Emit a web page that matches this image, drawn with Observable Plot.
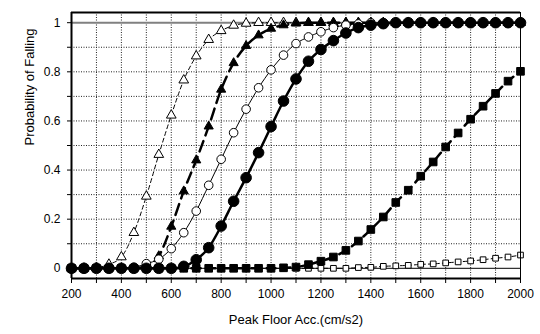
<!DOCTYPE html>
<html><head><meta charset="utf-8">
<script src="https://cdn.jsdelivr.net/npm/d3@7"></script>
<script src="https://cdn.jsdelivr.net/npm/@observablehq/plot@0.6"></script>
<style>body{margin:0;background:#fff}</style>
</head><body><div id="chart"></div>
<script>
// Peak floor acceleration (cm/s2)
const acc = [200,250,300,350,400,450,500,550,600,650,700,750,800,850,900,950,1000,1050,1100,1150,1200,1250,1300,1350,1400,1450,1500,1550,1600,1650,1700,1750,1800,1850,1900,1950,2000];
// Probability of falling, per series
const openTriangle = [0,0,0.003,0.016,0.046,0.145,0.293,0.463,0.623,0.766,0.864,0.931,0.967,0.989,0.997,1,1,1,1,1,1,1,1,1,1,1,1,1,1,1,1,1,1,1,1,1,1];
const filledTriangle = [0,0,0,0,0,0,0.01,0.05,0.17,0.314,0.44,0.578,0.728,0.836,0.906,0.949,0.976,0.99,0.997,1,1,1,1,1,1,1,1,1,1,1,1,1,1,1,1,1,1];
const openCircle = [0,0,0,0,0,0.004,0.019,0.037,0.08,0.145,0.233,0.338,0.444,0.552,0.648,0.735,0.808,0.868,0.915,0.942,0.963,0.98,0.99,0.995,1,1,1,1,1,1,1,1,1,1,1,1,1];
const filledCircle = [0,0,0,0,0,0,0,0,0,0.008,0.035,0.084,0.172,0.273,0.369,0.471,0.577,0.681,0.771,0.843,0.891,0.927,0.958,0.98,0.99,0.996,1,1,1,1,1,1,1,1,1,1,1];
const filledSquare = [0,0,0,0,0,0,0,0,0,0,0,0,0,0,0,0,0,0.002,0.005,0.015,0.029,0.046,0.073,0.111,0.158,0.209,0.268,0.318,0.375,0.433,0.494,0.551,0.607,0.66,0.712,0.762,0.802];
const openSquare = [0,0,0,0,0,0,0,0,0,0,0,0,0,0,0,0,0,0,0,0,0,0,0,0.003,0.004,0.008,0.01,0.012,0.016,0.018,0.022,0.026,0.03,0.035,0.041,0.046,0.054];

const xTickLabels = [200,400,600,800,1000,1200,1400,1600,1800,2000];
const xMinorTicks = [200,300,400,500,600,700,800,900,1000,1100,1200,1300,1400,1500,1600,1700,1800,1900,2000];
const yTickLabels = [0,0.2,0.4,0.6,0.8,1];
const yMinorTicks = [0,0.1,0.2,0.3,0.4,0.5,0.6,0.7,0.8,0.9,1];
const xGrid = [300,400,500,600,700,800,900,1000,1100,1200,1300,1400,1500,1600,1700,1800,1900];
const yGrid = [0.1,0.2,0.3,0.4,0.5,0.6,0.7,0.8,0.9];

// drawing order: first drawn is underneath
const series = [
  {values: openSquare,    symbol: "square",   fill: "white", r: 3.2, sw: 1,   dash: "4,3",  dotSw: 1},
  {values: filledSquare,  symbol: "square",   fill: "black", r: 4.3, sw: 2.5, dash: "9,6",  dotSw: 0},
  {values: openTriangle,  symbol: "triangle", fill: "white", r: 3.6, sw: 1,   dash: "4,3",  dotSw: 1},
  {values: filledTriangle,symbol: "triangle", fill: "black", r: 3.4, sw: 2.5, dash: "11,6", dotSw: 0},
  {values: openCircle,    symbol: "circle",   fill: "white", r: 4.3, sw: 1,   dash: null,   dotSw: 1},
  {values: filledCircle,  symbol: "circle",   fill: "black", r: 5.3, sw: 2.5, dash: null,   dotSw: 0}
];

const seriesMarks = [];
for (const s of series) {
  const rows = acc.map((x, i) => ({x, y: s.values[i]}));
  seriesMarks.push(Plot.line(rows, {x: "x", y: "y", stroke: "black", strokeWidth: s.sw,
    strokeDasharray: s.dash ?? undefined, curve: "monotone-x"}));
}
for (const s of series) {
  const rows = acc.map((x, i) => ({x, y: s.values[i]}));
  seriesMarks.push(Plot.dot(rows, {x: "x", y: "y", symbol: () => s.symbol, r: s.r, fill: s.fill,
    stroke: "black", strokeWidth: s.dotSw || 1}));
}

const yLo = -0.0415, yHi = 1.0415;

const chart = Plot.plot({
  width: 540, height: 334,
  marginLeft: 71, marginRight: 20, marginTop: 12, marginBottom: 56,
  style: {fontFamily: "'Liberation Sans', Arial, sans-serif", color: "black", background: "white"},
  x: {domain: [200, 2000], label: null},
  y: {domain: [yLo, yHi], label: null},
  symbol: {type: "identity"},
  marks: [
    Plot.ruleX(xGrid, {stroke: "#222", strokeWidth: 1, strokeDasharray: "1,1.5"}),
    Plot.ruleY(yGrid, {stroke: "#222", strokeWidth: 1, strokeDasharray: "1,1.5"}),
    Plot.ruleY([1], {stroke: "#808080", strokeWidth: 2}),
    Plot.ruleY([0], {stroke: "black", strokeWidth: 1}),
    ...seriesMarks,
    Plot.ruleX([2000], {stroke: "black", strokeWidth: 1}),
    Plot.ruleY([yHi], {stroke: "black", strokeWidth: 2}),
    Plot.ruleX([200], {stroke: "black", strokeWidth: 2}),
    Plot.ruleY([yLo], {stroke: "black", strokeWidth: 2}),
    Plot.axisX({ticks: xMinorTicks, tickSize: 5, tickFormat: () => "", strokeWidth: 1}),
    Plot.axisX({ticks: xTickLabels, tickSize: 0, tickPadding: 11, fontSize: 12, tickFormat: d => String(d), label: null}),
    Plot.axisY({ticks: yMinorTicks, tickSize: 4, tickFormat: () => "", strokeWidth: 1}),
    Plot.axisY({ticks: yTickLabels, tickSize: 0, tickPadding: 11, fontSize: 12, tickFormat: d => String(d), label: null}),
    Plot.text(["Peak Floor Acc.(cm/s2)"], {frameAnchor: "bottom", dy: 41, fontSize: 13, lineAnchor: "middle", fill: "black"}),
    Plot.text(["Probability of Falling"], {frameAnchor: "left", dx: -42, rotate: -90, fontSize: 13, lineAnchor: "middle", fill: "black"})
  ]
});
document.getElementById("chart").appendChild(chart);
</script>
</body></html>
